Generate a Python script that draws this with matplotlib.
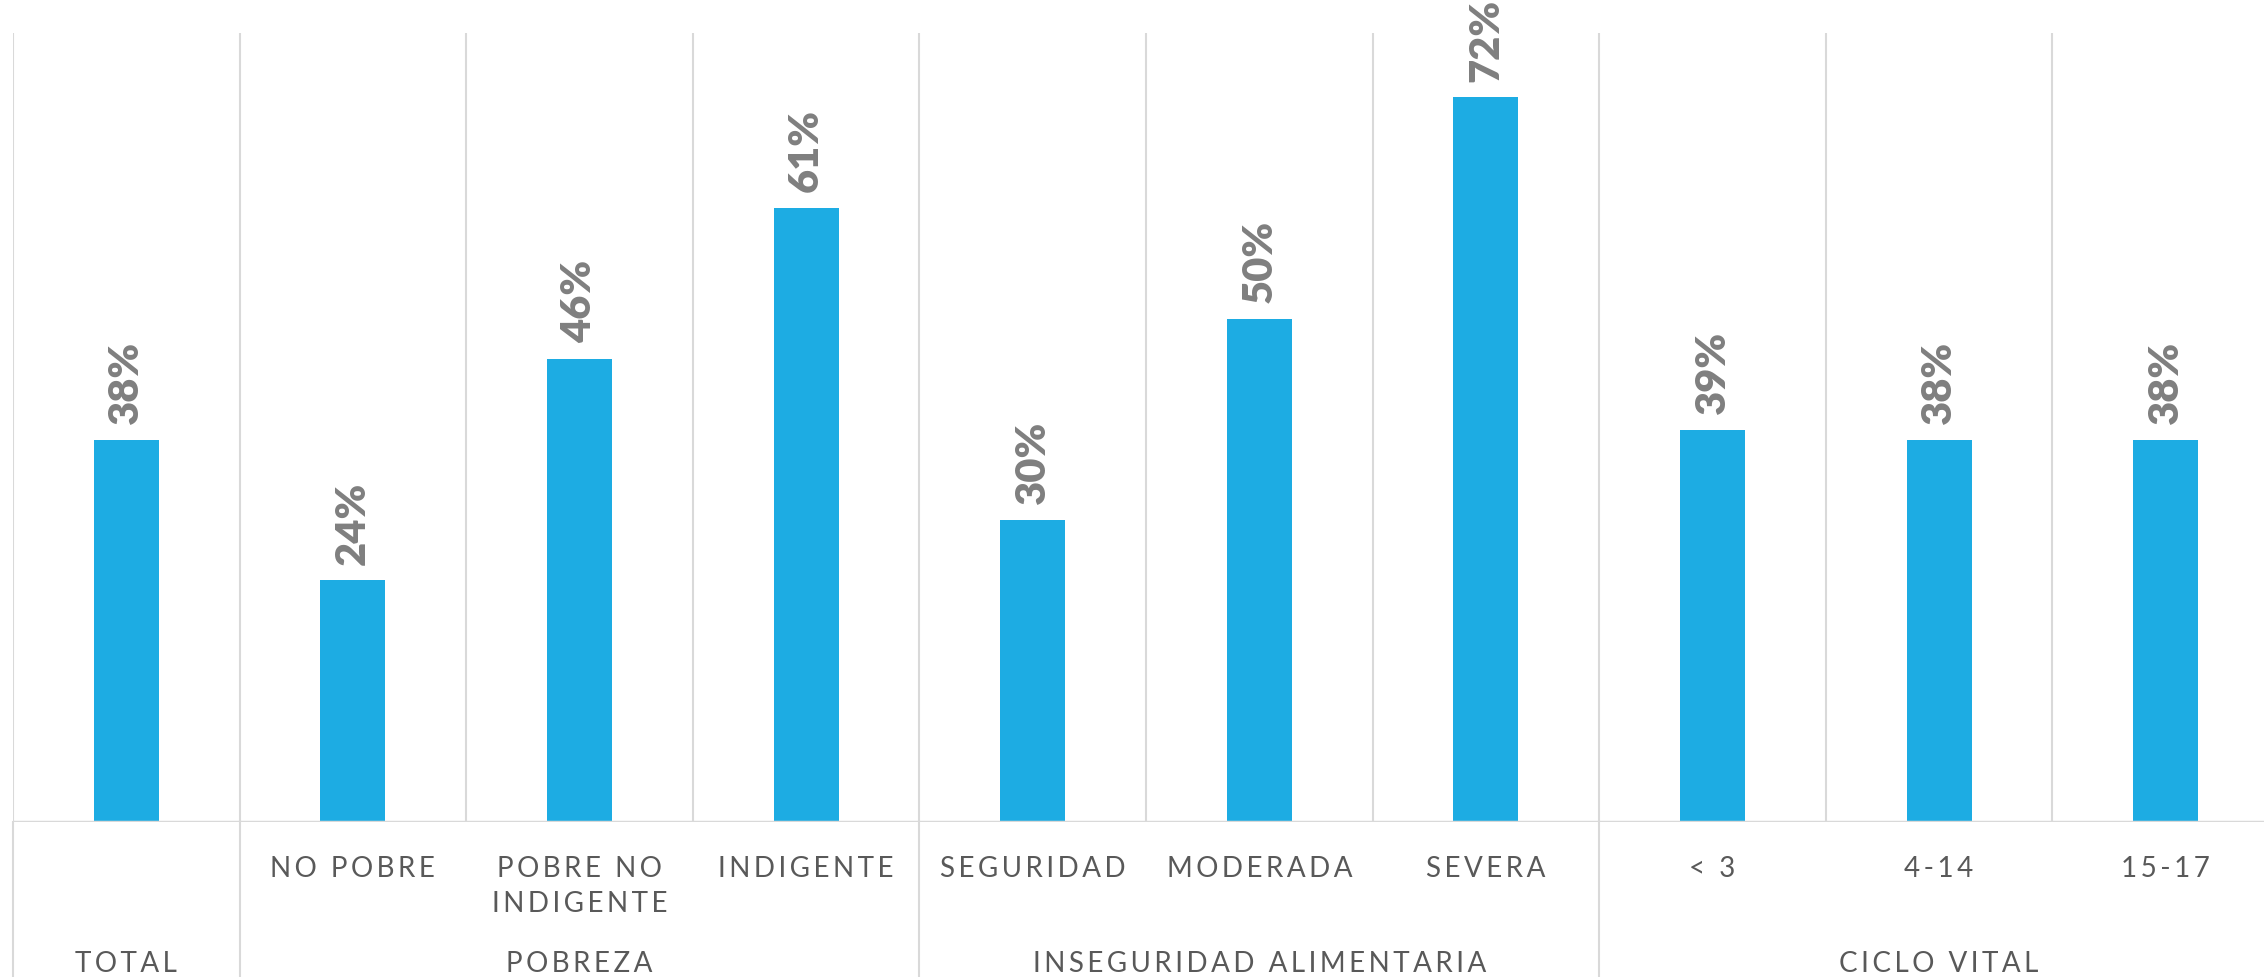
import matplotlib
matplotlib.use("Agg")
import matplotlib.pyplot as plt
import matplotlib.transforms as mtransforms

# data
categories = ["", "NO POBRE", "POBRE NO\nINDIGENTE", "INDIGENTE", "SEGURIDAD",
              "MODERADA", "SEVERA", "< 3", "4-14", "15-17"]
values = [38, 24, 46, 61, 30, 50, 72, 39, 38, 38]
groups = ["TOTAL", "POBREZA", "INSEGURIDAD ALIMENTARIA", "CICLO VITAL"]
group_spans = [(0, 0), (1, 3), (4, 6), (7, 9)]

W, H = 2264, 978
fig = plt.figure(figsize=(W / 100, H / 100), dpi=100)
ax = fig.add_axes([13 / W, (H - 823) / H, 2266 / W, (823 - 34) / H])

bar_color = "#1DACE3"
grid_color = "#D9D9D9"
text_color = "#595959"
label_color = "#7F7F7F"


def spaced(s):
    # imitate the letter spacing of the original labels with thin spaces
    return "\n".join("\u2009".join(line) for line in s.split("\n"))


x = list(range(len(values)))
ax.bar(x, values, width=0.287, color=bar_color, zorder=3)
ax.set_xlim(-0.5, len(values) - 0.5)
ax.set_ylim(0, 78.4)

for sp in ax.spines.values():
    sp.set_visible(False)
ax.set_xticks([])
ax.set_yticks([])

# category gridlines
for b in range(len(values) + 1):
    ax.axvline(b - 0.5, color=grid_color, lw=1.5, zorder=1)
ax.axhline(0, color=grid_color, lw=2.5, zorder=4)

# value labels
for xi, v in zip(x, values):
    ax.annotate(f"{v}%", (xi, v), xytext=(0, 12), textcoords="offset points",
                rotation=90, ha="center", va="bottom", fontsize=30,
                fontweight="heavy", color=label_color, family="Lato")

trans = mtransforms.blended_transform_factory(ax.transData, ax.transAxes)
ax_h = 823 - 34
fam = ["Lato", "DejaVu Sans"]

# category labels
for xi, c in zip(x, categories):
    if not c:
        continue
    ax.text(xi, -(856 - 823) / ax_h, spaced(c), transform=trans, ha="center",
            va="top", fontsize=20, color=text_color, family=fam,
            linespacing=1.45)

# separators below the axis between groups
for start, end in group_spans:
    ax.plot([start - 0.5, start - 0.5], [0, -(H - 823) / ax_h], transform=trans,
            color=grid_color, lw=1.5, clip_on=False)

# group labels
for g, (start, end) in zip(groups, group_spans):
    ax.text((start + end) / 2, -(964 - 823) / ax_h, spaced(g), transform=trans,
            ha="center", va="center", fontsize=20, color=text_color,
            family=fam)

fig.savefig("out.png", dpi=100)
